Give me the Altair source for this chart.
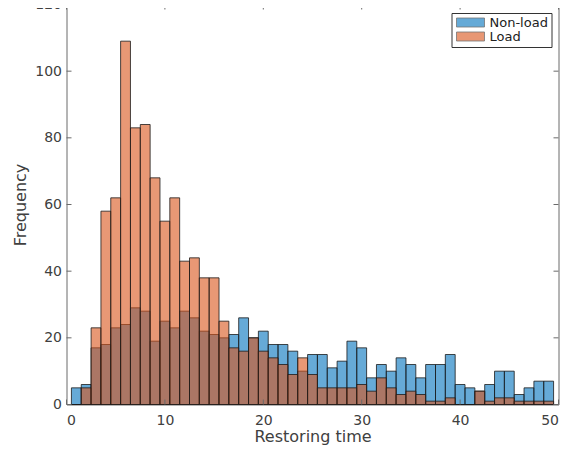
import altair as alt
import pandas as pd

# ---- data ----
bins = list(range(1, 50))
non_load = [5, 6, 17, 18, 23, 24, 29, 28, 19, 25, 23, 28, 26, 22, 21, 20, 21, 26, 20, 22,
            18, 18, 16, 10, 15, 15, 11, 13, 19, 17, 8, 12, 10, 14, 12, 8, 12, 12, 15, 6,
            5, 4, 6, 10, 10, 3, 5, 7, 7]
load = [0, 5, 23, 58, 62, 109, 83, 84, 68, 55, 62, 43, 44, 38, 38, 25, 17, 16, 20, 16,
        14, 12, 9, 14, 9, 5, 5, 5, 5, 6, 4, 8, 5, 3, 4, 3, 1, 1, 2, 0,
        0, 4, 1, 2, 2, 1, 1, 1, 1]
series = ["Non-load", "Load"]
colors = ["#0072BD", "#D95319"]
x_ticks = [0, 10, 20, 30, 40, 50]
y_ticks = [0, 20, 40, 60, 80, 100, 120]

W, H = 492, 400
FONT = "DejaVu Sans"
TXT = "#404040"
BOX = "#6a6a6a"

rows = []
for i, (name, vals) in enumerate(zip(series, [non_load, load])):
    for b, v in zip(bins, vals):
        rows.append({"series": name, "ord": i, "lo": b - 0.5, "hi": b + 0.5,
                     "base": 0, "count": v})
df = pd.DataFrame(rows)

xs = alt.Scale(domain=[0, 50], nice=False, zero=False)
ys = alt.Scale(domain=[0, 120], nice=False)

bars = alt.Chart(df).mark_bar(fillOpacity=0.6, stroke="#1a1a1a", strokeWidth=0.8).encode(
    x=alt.X("lo:Q", scale=xs, title="Restoring time",
            axis=alt.Axis(values=x_ticks, ticks=False, domain=False, grid=False,
                          labelPadding=9, titlePadding=1)),
    x2="hi:Q",
    y=alt.Y("count:Q", scale=ys, title="Frequency", stack=None,
            axis=alt.Axis(values=y_ticks, ticks=False, domain=False, grid=False,
                          labelPadding=5, titlePadding=6)),
    y2="base:Q",
    color=alt.Color("series:N", scale=alt.Scale(domain=series, range=colors),
                    legend=alt.Legend(title=None, orient="none", legendX=385, legendY=8.5,
                                      symbolType="M-1,-1H5.22V1H-1Z", symbolSize=81,
                                      symbolOpacity=0.6, symbolStrokeColor="#1a1a1a",
                                      symbolStrokeWidth=0.8, labelFontSize=13,
                                      labelFont=FONT, labelColor="#222222", labelOffset=22,
                                      rowPadding=-2, padding=3, strokeColor="#333333",
                                      fillColor="white")),
    order=alt.Order("ord:Q"),
)

xt = pd.DataFrame({"v": x_ticks})
yt = pd.DataFrame({"v": y_ticks})
tick_style = dict(color=BOX, strokeWidth=1)
xb = alt.Chart(xt).mark_rule(**tick_style).encode(
    x=alt.X("v:Q", scale=xs), y=alt.value(H), y2=alt.value(H - 5))
xtop = alt.Chart(xt).mark_rule(**tick_style).encode(
    x=alt.X("v:Q", scale=xs), y=alt.value(0), y2=alt.value(5))
yl = alt.Chart(yt).mark_rule(**tick_style).encode(
    y=alt.Y("v:Q", scale=ys), x=alt.value(0), x2=alt.value(5))
yr = alt.Chart(yt).mark_rule(**tick_style).encode(
    y=alt.Y("v:Q", scale=ys), x=alt.value(W), x2=alt.value(W - 5))

chart = alt.layer(bars, xb, xtop, yl, yr).properties(
    width=W, height=H,
    autosize=alt.AutoSizeParams(type="none"),
    padding={"left": 58.5, "top": -3.5, "right": 16, "bottom": 42},
).configure_view(stroke=BOX, strokeWidth=1).configure_axis(
    labelFont=FONT, titleFont=FONT, labelFontSize=14, titleFontSize=16,
    labelColor=TXT, titleColor=TXT, titleFontWeight="normal",
)

chart.save("out.html", embed_options={"renderer": "svg", "actions": False})
